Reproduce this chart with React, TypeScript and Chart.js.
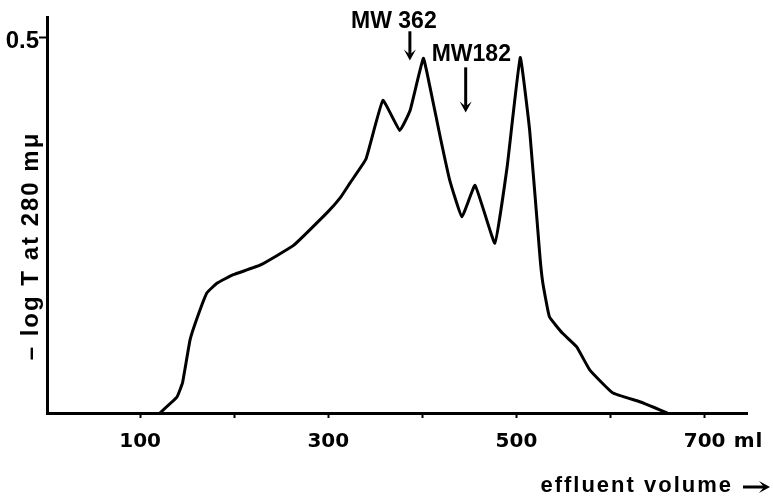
import React, { useEffect, useRef } from "react";
import { Chart, registerables } from "chart.js";

Chart.register(...registerables);

// effluent volume (ml)
const VOLUME = [121, 139, 145, 153, 161, 171, 182, 199, 228, 263, 299, 313, 323, 340, 358, 376, 387, 401, 408, 419, 429, 442, 456, 477, 490, 504, 514, 525, 528, 535, 549, 564, 578, 602, 631, 647, 660];
// -log T at 280 mμ
const ABSORBANCE = [0, 0.021, 0.04, 0.097, 0.128, 0.16, 0.173, 0.184, 0.197, 0.223, 0.267, 0.287, 0.306, 0.338, 0.416, 0.376, 0.403, 0.472, 0.434, 0.367, 0.31, 0.261, 0.303, 0.226, 0.327, 0.473, 0.376, 0.207, 0.173, 0.128, 0.106, 0.088, 0.057, 0.027, 0.015, 0.007, 0];

const X_TICKS = [100, 200, 300, 400, 500, 600, 700];
const X_TICK_LABELS = ["100", "", "300", "", "500", "", "700"];
const X_UNIT = "ml";
const Y_TICKS = [0.5];
const Y_TICK_LABELS = ["0.5"];
const X_MIN = 1;
const X_MAX = 745;
const Y_MIN = 0;
const Y_MAX = 0.527;

const Y_TITLE = "\u2013 log T at 280 m\u03bc";
const X_TITLE = "effluent volume";

// markers: label, x (ml), text y, arrow start y, arrow tip y
const MARKER_LABELS = ["MW 362", "MW182"];
const MARKER_X = [386.7, 446];
const MARKER_TEXT_Y = [0.521, 0.477];
const MARKER_FROM_Y = [0.508, 0.46];
const MARKER_TIP_Y = [0.469, 0.4];

const FONT = '"Liberation Sans", Arial, sans-serif';
const TICK_FONT = '"DejaVu Sans", sans-serif';

function arrowHead(ctx: CanvasRenderingContext2D, x: number, y: number, dir: "down" | "right") {
  ctx.beginPath();
  if (dir === "down") {
    ctx.moveTo(x - 6, y - 11);
    ctx.lineTo(x, y);
    ctx.lineTo(x + 6, y - 11);
    ctx.lineTo(x, y - 6);
  } else {
    ctx.moveTo(x - 11, y - 6);
    ctx.lineTo(x, y);
    ctx.lineTo(x - 11, y + 6);
    ctx.lineTo(x - 6, y);
  }
  ctx.closePath();
  ctx.fill();
}

const textPlugin = {
  id: "texts",
  afterDraw(chart: any) {
    const ctx = chart.ctx as CanvasRenderingContext2D;
    const xs = chart.scales.x;
    const ys = chart.scales.y;
    ctx.save();
    ctx.fillStyle = "#000";
    ctx.strokeStyle = "#000";

    // x tick labels
    ctx.font = `bold 20px ${TICK_FONT}`;
    ctx.textBaseline = "middle";
    ctx.textAlign = "center";
    X_TICKS.forEach((v, i) => {
      const lbl = X_TICK_LABELS[i];
      if (!lbl) return;
      const px = xs.getPixelForValue(v);
      ctx.fillText(lbl, px, 442);
      if (i === X_TICKS.length - 1) {
        ctx.textAlign = "left";
        (ctx as any).letterSpacing = "1px";
        ctx.fillText(X_UNIT, px + 29, 442);
        (ctx as any).letterSpacing = "0px";
        ctx.textAlign = "center";
      }
    });

    // y tick labels
    ctx.font = `bold 24px ${FONT}`;
    ctx.textAlign = "right";
    Y_TICKS.forEach((v, i) => {
      ctx.fillText(Y_TICK_LABELS[i], 39, ys.getPixelForValue(v) + 4);
    });

    // y title
    ctx.save();
    ctx.translate(31, 246);
    ctx.rotate(-Math.PI / 2);
    ctx.font = `bold 24px ${FONT}`;
    (ctx as any).letterSpacing = "2px";
    ctx.textAlign = "center";
    ctx.fillText(Y_TITLE, 0, 0);
    ctx.restore();

    // x title with arrow
    ctx.font = `bold 22px ${FONT}`;
    (ctx as any).letterSpacing = "2px";
    ctx.textAlign = "right";
    ctx.fillText(X_TITLE, 733, 486);
    (ctx as any).letterSpacing = "0px";
    ctx.lineWidth = 3;
    ctx.beginPath();
    ctx.moveTo(743, 487);
    ctx.lineTo(764, 487);
    ctx.stroke();
    arrowHead(ctx, 770, 487, "right");

    // markers
    MARKER_LABELS.forEach((lbl, i) => {
      const px = xs.getPixelForValue(MARKER_X[i]);
      const ty = ys.getPixelForValue(MARKER_TEXT_Y[i]);
      const y0 = ys.getPixelForValue(MARKER_FROM_Y[i]);
      const y1 = ys.getPixelForValue(MARKER_TIP_Y[i]);
      ctx.font = `bold 23px ${FONT}`;
      ctx.textBaseline = "middle";
      if (i === 0) {
        ctx.textAlign = "center";
        ctx.fillText(lbl, px - 16, ty);
      } else {
        ctx.textAlign = "left";
        ctx.fillText(lbl, px - 34, ty);
      }
      ctx.lineWidth = 3;
      ctx.beginPath();
      ctx.moveTo(px, y0);
      ctx.lineTo(px, y1 - 6);
      ctx.stroke();
      arrowHead(ctx, px, y1, "down");
    });
    ctx.restore();
  },
};

export default function App() {
  const ref = useRef<HTMLCanvasElement>(null);
  useEffect(() => {
    if (!ref.current) return;
    const chart = new Chart(ref.current, {
      type: "line",
      data: {
        datasets: [
          {
            data: VOLUME.map((v, i) => ({ x: v, y: ABSORBANCE[i] })),
            borderColor: "#000",
            borderWidth: 3,
            pointRadius: 0,
            tension: 0.1,
            fill: false,
            borderJoinStyle: "round",
            borderCapStyle: "round",
          },
        ],
      },
      options: {
        animation: false,
        responsive: false,
        maintainAspectRatio: false,
        layout: { padding: { top: 17, right: 26, left: 0, bottom: 0 } },
        plugins: { legend: { display: false }, tooltip: { enabled: false } },
        scales: {
          x: {
            type: "linear",
            min: X_MIN,
            max: X_MAX,
            afterBuildTicks: (s: any) => {
              s.ticks = X_TICKS.map((v) => ({ value: v }));
            },
            afterFit: (s: any) => {
              s.height = 84;
            },
            ticks: { display: false },
            grid: {
              display: true,
              drawOnChartArea: false,
              drawTicks: true,
              tickLength: 5,
              tickWidth: 2,
              tickColor: "#000",
            },
            border: { display: true, color: "#000", width: 3 },
          },
          y: {
            type: "linear",
            min: Y_MIN,
            max: Y_MAX,
            afterBuildTicks: (s: any) => {
              s.ticks = Y_TICKS.map((v) => ({ value: v }));
            },
            afterFit: (s: any) => {
              s.width = 47;
            },
            ticks: { display: false },
            grid: {
              display: true,
              drawOnChartArea: false,
              drawTicks: true,
              tickLength: 8,
              tickWidth: 2,
              tickColor: "#000",
            },
            border: { display: true, color: "#000", width: 3 },
          },
        },
      },
      plugins: [textPlugin],
    });
    return () => chart.destroy();
  }, []);
  return (
    <div style={{ position: "fixed", left: 0, top: 0, width: 773, height: 497, background: "#fff" }}>
      <canvas ref={ref} width={773} height={497} style={{ display: "block", width: 773, height: 497 }} />
    </div>
  );
}
